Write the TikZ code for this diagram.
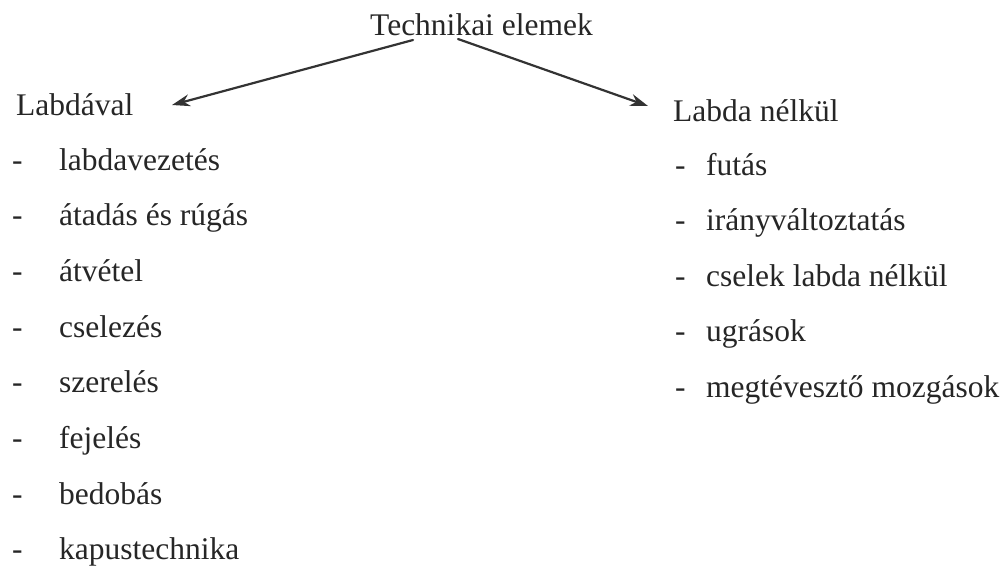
\documentclass[tikz,border=0pt]{standalone}
\usepackage{fontspec}
\setmainfont{Liberation Serif}
\usetikzlibrary{arrows.meta}
\begin{document}
\begin{tikzpicture}[x=1pt,y=-1pt,line join=round,line cap=round,>={Stealth[length=18pt,width=12pt]},font=\fontsize{31.5}{36}\selectfont]
                \tikzset{t/.style={anchor=base west,inner sep=0pt,text=black!85}}
                \useasboundingbox (0,0) rectangle (1007,566);

                \path(370,35)node[t](T){Technikai elemek};
                \path(16,115)node[t](L){Labdával} (673,121)node[t](N){Labda nélkül};
                \path(413,40)coordinate(tl) (458,39)coordinate(tr) (172,105)coordinate(al) (648,106)coordinate(ar);
                \foreach \s [count=\i] in {labdavezetés,átadás és rúgás,átvétel,cselezés,szerelés,fejelés,bedobás,kapustechnika}{
                    \path(12,{170+55.7*(\i-1)})node[t](ld\i){-} (59,{170+55.7*(\i-1)})node[t](l\i){\s};	}
                \foreach \s [count=\i] in {futás,irányváltoztatás,cselek labda nélkül,ugrások,megtévesztő mozgások}{
                    \path(675,{175+55.5*(\i-1)})node[t](nd\i){-} (706,{175+55.5*(\i-1)})node[t](n\i){\s};	}
                \foreach \x/\y in {tl/al,tr/ar}{
                    \draw[->,line width=2.2pt,black!80] (\x)--(\y);	}
            \end{tikzpicture}
\end{document}
